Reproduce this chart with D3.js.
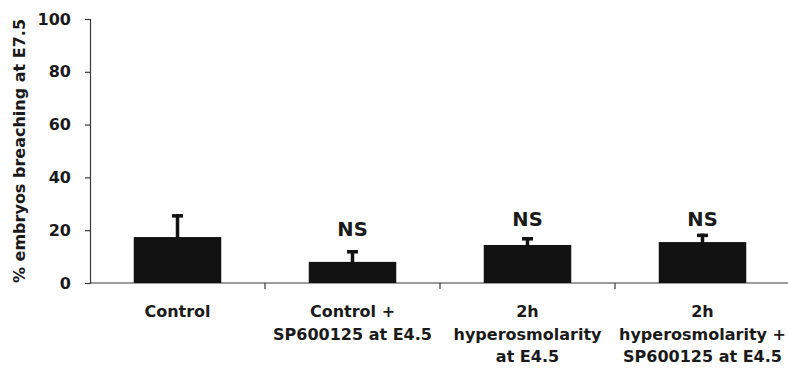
<!DOCTYPE html>
<html>
<head>
<meta charset="utf-8">
<script src="https://cdn.jsdelivr.net/npm/d3@7"></script>
<style>
  body { margin: 0; background: #fff; }
  svg text { font-family: "DejaVu Sans", sans-serif; font-weight: bold; fill: #1a1a1a; }
</style>
</head>
<body>
<div id="chart"></div>
<script>
// data
const categories = ["Control", "Control + SP", "2h hyper", "2h hyper + SP"];
const categoryLines = [
    ["Control"],
    ["Control +", "SP600125 at E4.5"],
    ["2h", "hyperosmolarity", "at E4.5"],
    ["2h", "hyperosmolarity +", "SP600125 at E4.5"]
];
const means = [17.4, 8.0, 14.4, 15.5];
const errors = [8.7, 4.5, 3.0, 3.2];
const sigLabels = ["", "NS", "NS", "NS"];
const sigLevels = [0, 17.8, 21.6, 21.6];
const yTicks = [0, 20, 40, 60, 80, 100];

const W = 788, H = 378;
const plotLeft = 90, plotRight = 790, plotTop = 19, plotBottom = 283;

const svg = d3.select("#chart").append("svg")
    .attr("width", W)
    .attr("height", H);

const x = d3.scaleBand()
    .domain(categories)
    .range([plotLeft, plotRight])
    .paddingInner(0.5)
    .paddingOuter(0.25);

const y = d3.scaleLinear()
    .domain([0, 100])
    .range([plotBottom, plotTop]);

// y axis
const yAxis = svg.append("g")
    .attr("transform", `translate(${plotLeft},0)`)
    .call(d3.axisLeft(y).tickValues(yTicks).tickSize(5).tickPadding(14));
yAxis.select(".domain").attr("stroke", "#3a3a3a").attr("stroke-width", 1.2);
yAxis.selectAll(".tick line").attr("stroke", "#3a3a3a").attr("stroke-width", 1.2);
yAxis.selectAll(".tick text")
    .attr("font-size", "16px")
    .attr("font-family", "DejaVu Sans")
    .attr("fill", "#1a1a1a");

// x axis line + ticks between categories
svg.append("line")
    .attr("x1", plotLeft).attr("x2", plotRight)
    .attr("y1", y(0)).attr("y2", y(0))
    .attr("stroke", "#3a3a3a").attr("stroke-width", 1.2);

const gap = x.step() * x.paddingInner();
categories.slice(1).forEach(c => {
    const bx = x(c) - gap / 2;
    svg.append("line")
        .attr("x1", bx).attr("x2", bx)
        .attr("y1", y(0)).attr("y2", y(0) + 6)
        .attr("stroke", "#3a3a3a").attr("stroke-width", 1.2);
});

// bars
svg.selectAll("rect.bar")
    .data(categories)
    .join("rect")
    .attr("class", "bar")
    .attr("x", d => x(d))
    .attr("width", x.bandwidth())
    .attr("y", (d, i) => y(means[i]))
    .attr("height", (d, i) => y(0) - y(means[i]))
    .attr("fill", "#121212");

// error bars, NS marks, category labels
categories.forEach((c, i) => {
    const cx = x(c) + x.bandwidth() / 2;
    svg.append("line")
        .attr("x1", cx).attr("x2", cx)
        .attr("y1", y(means[i]) + 1)
        .attr("y2", y(means[i] + errors[i]))
        .attr("stroke", "#121212")
        .attr("stroke-width", 3.5);
    svg.append("rect")
        .attr("x", cx - 5.5)
        .attr("y", y(means[i] + errors[i]))
        .attr("width", 11)
        .attr("height", 3.5)
        .attr("fill", "#121212");

    if (sigLabels[i]) {
        svg.append("text")
            .attr("x", cx)
            .attr("y", y(sigLevels[i]))
            .attr("text-anchor", "middle")
            .attr("font-size", "19.5px")
            .text(sigLabels[i]);
    }

    const lbl = svg.append("text")
        .attr("x", cx)
        .attr("y", 317)
        .attr("text-anchor", "middle")
        .attr("font-size", "16px");
    categoryLines[i].forEach((ln, k) => {
        lbl.append("tspan")
            .attr("x", cx)
            .attr("dy", k === 0 ? 0 : 22.5)
            .text(ln);
    });
});

// y axis title
svg.append("text")
    .attr("transform", "rotate(-90)")
    .attr("x", -(plotTop + plotBottom) / 2)
    .attr("y", 25)
    .attr("text-anchor", "middle")
    .attr("font-size", "16px")
    .text("% embryos breaching at E7.5");
</script>
</body>
</html>
